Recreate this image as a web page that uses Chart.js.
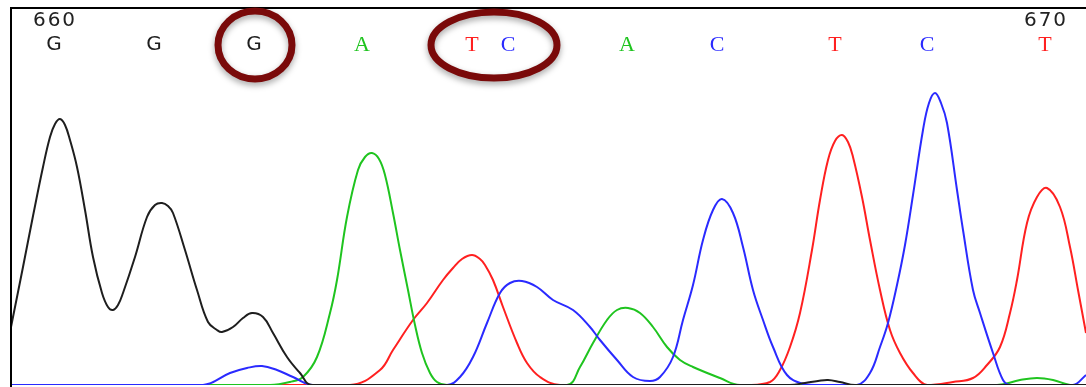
<!DOCTYPE html>
<html>
<head>
<meta charset="utf-8">
<title>Chromatogram 660-670</title>
<script src="https://cdn.jsdelivr.net/npm/chart.js@4.4.1/dist/chart.umd.min.js"></script>
<style>
  html, body { margin: 0; padding: 0; background: #fff; }
  #wrap { width: 1086px; height: 387px; position: relative; }
</style>
</head>
<body>
<div id="wrap"><canvas id="trace"></canvas></div>
<script>
// trace samples: scan position and signal height for each dye channel
var scanG = [11,13,23,33,43,50,55,60,65,70,77,85,93,102,108,113,118,123,135,147,155,162,168,173,185,197,208,217,222,233,243,252,263,273,287,300,312,790,805,818,828,840,855,1086];
var sigG  = [58,68,118,169,218,248,261,266,260,245,218,175,128,92,78,75,80,92,128,168,180,182,179,172,135,95,63,55,53,58,67,72,68,52,28,12,0,0,2,4,5,3,0,0];

var scanA = [11,270,290,303,317,330,337,347,358,365,372,379,385,393,400,408,415,422,430,437,447,567,580,593,607,617,628,640,653,667,680,693,720,740,997,1020,1037,1053,1070,1086];
var sigA  = [0,0,3,8,28,72,105,168,215,228,232,226,210,172,135,95,60,32,12,3,0,0,18,42,65,75,77,72,58,38,25,18,7,0,0,5,7,5,0,0];

var scanT = [11,350,380,393,413,427,443,453,462,472,480,485,493,503,517,527,540,560,750,770,780,790,800,812,820,828,835,842,848,853,862,870,880,890,900,913,927,953,973,987,1000,1010,1017,1027,1037,1047,1060,1070,1078,1086];
var sigT  = [0,0,15,35,65,82,105,117,126,130,126,120,105,78,42,22,8,0,0,3,15,38,72,135,185,225,244,250,243,228,188,145,95,55,32,12,0,3,7,20,38,72,105,162,188,197,178,138,95,52];

var scanC = [11,203,230,247,262,277,293,313,447,460,473,487,500,510,522,537,553,573,590,600,617,633,650,660,673,683,693,703,713,722,733,743,753,763,773,787,803,817,857,870,880,888,897,905,913,923,929,935,941,947,957,963,973,980,993,1003,1010,1073,1086];
var sigC  = [0,0,12,17,19,15,8,0,0,8,28,62,92,102,104,98,85,75,58,45,25,8,4,8,28,65,100,145,175,186,172,138,95,65,38,10,1,0,0,12,38,62,100,140,190,255,282,292,282,262,195,155,95,72,32,5,0,0,10];

// base calls along the top and where they sit on the scan axis
var baseCalls = ['G','G','G','A','T','C','A','C','T','C','T'];
var baseScan  = [54,154,254,362,472,508,627,717,835,927,1045];
var posLabels = ['660','670'];
var posIndex  = [0,10];
// calls ringed for attention (indices into baseCalls)
var ringed = [[2],[4,5]];

var dyeColor = { G: '#1e1e1e', A: '#1fc41f', T: '#ff2020', C: '#2a2aff' };

function pts(xs, ys) {
  return xs.map(function (x, i) { return { x: x, y: ys[i] }; });
}

function channel(label, xs, ys, color) {
  return {
    label: label,
    data: pts(xs, ys),
    borderColor: color,
    borderWidth: 2,
    pointRadius: 0,
    fill: false,
    tension: 0.4
  };
}

var frame = {
  id: 'frame',
  afterDraw: function (chart) {
    var ctx = chart.ctx, a = chart.chartArea, xs = chart.scales.x;
    ctx.save();
    // border along top and left
    ctx.strokeStyle = '#000';
    ctx.lineWidth = 2;
    ctx.beginPath();
    ctx.moveTo(a.left, chart.height);
    ctx.lineTo(a.left, a.top);
    ctx.lineTo(a.right, a.top);
    ctx.stroke();

    ctx.textAlign = 'center';
    ctx.textBaseline = 'middle';
    // position numbers
    ctx.fillStyle = '#222';
    ctx.font = '20px "DejaVu Sans"';
    posLabels.forEach(function (t, i) {
      ctx.fillText(t.split('').join(String.fromCharCode(8202)), xs.getPixelForValue(baseScan[posIndex[i]]), 21);
    });
    // base calls
    baseCalls.forEach(function (b, i) {
      ctx.fillStyle = dyeColor[b];
      ctx.font = b === 'G' ? '20px "DejaVu Sans"' : '22px "Liberation Serif"';
      ctx.fillText(b, xs.getPixelForValue(baseScan[i]), 45);
    });

    // rings around the flagged calls
    ctx.strokeStyle = 'rgb(122,10,10)';
    ctx.lineWidth = 7;
    ctx.shadowColor = 'rgba(0,0,0,0.35)';
    ctx.shadowBlur = 6;
    ctx.shadowOffsetY = 3;
    ringed.forEach(function (grp) {
      var x0 = xs.getPixelForValue(baseScan[grp[0]]);
      var x1 = xs.getPixelForValue(baseScan[grp[grp.length - 1]]);
      var wide = grp.length > 1;
      var cx = (x0 + x1) / 2 + (wide ? 4 : 1);
      var rx = wide ? (x1 - x0) / 2 + 45 : 37;
      var ry = wide ? 33 : 34;
      ctx.beginPath();
      ctx.ellipse(cx, 45, rx, ry, 0, 0, Math.PI * 2);
      ctx.stroke();
    });
    ctx.restore();
  }
};

new Chart(document.getElementById('trace'), {
  type: 'line',
  data: {
    datasets: [
      channel('G', scanG, sigG, dyeColor.G),
      channel('C', scanC, sigC, dyeColor.C),
      channel('A', scanA, sigA, dyeColor.A),
      channel('T', scanT, sigT, dyeColor.T)
    ]
  },
  options: {
    responsive: true,
    maintainAspectRatio: false,
    animation: false,
    layout: { padding: { left: 11, top: 8, right: 0, bottom: 2 } },
    scales: {
      x: { type: 'linear', display: false, min: 11, max: 1086 },
      y: { display: false, min: 0, max: 377 }
    },
    plugins: {
      legend: { display: false },
      tooltip: { enabled: false }
    }
  },
  plugins: [frame]
});
</script>
</body>
</html>
